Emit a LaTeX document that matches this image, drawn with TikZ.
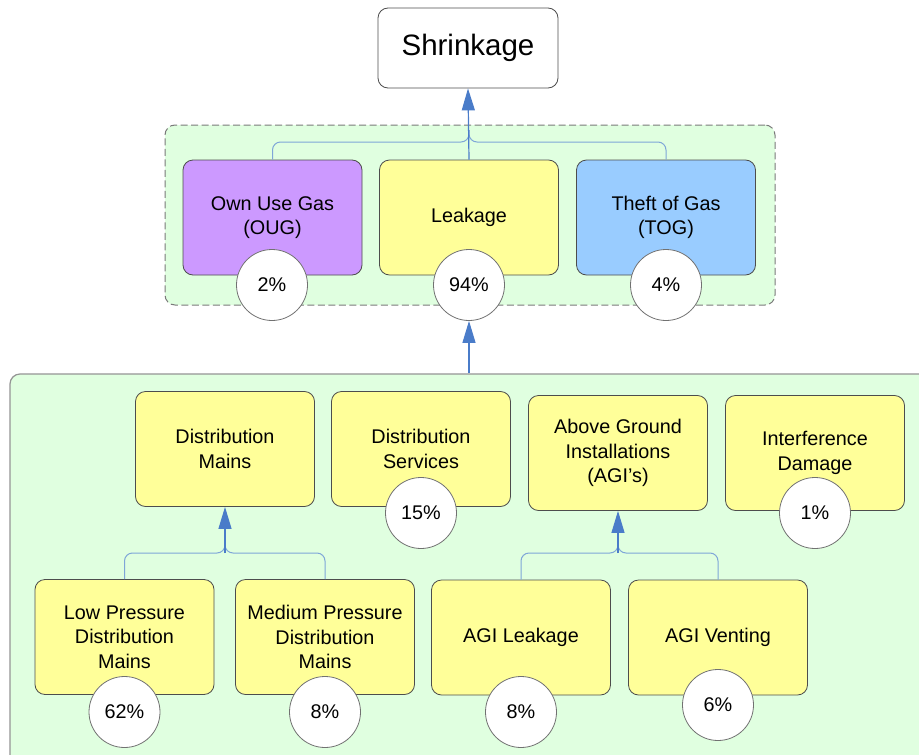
\documentclass[tikz,border=0pt]{standalone}
\usepackage{fontspec}
\setmainfont{Liberation Sans}
\usetikzlibrary{arrows.meta}
\definecolor{boxyellow}{HTML}{FFFF99}
\definecolor{boxpurple}{HTML}{CC99FF}
\definecolor{boxblue}{HTML}{99CCFF}
\definecolor{groupgreen}{HTML}{E0FFE0}
\definecolor{linkblue}{HTML}{7FA6D8}
\definecolor{arrowblue}{HTML}{4A7CC9}
\definecolor{edgegray}{HTML}{4D4D4D}
\definecolor{framegray}{HTML}{7A7A7A}
\begin{document}
\begin{tikzpicture}[x=1pt,y=-1pt,
 card/.style={draw=edgegray, line width=0.8pt, rounded corners=10pt, minimum width=179pt, minimum height=115pt, align=center, font=\fontsize{19.8}{24.5}\selectfont, inner sep=0pt},
 pct/.style={circle, draw=edgegray!80, line width=0.8pt, fill=white, minimum size=71pt, inner sep=0pt, font=\fontsize{19.8}{24}\selectfont},
 group/.style={fill=groupgreen, rounded corners=10pt, inner sep=0pt},
 fork/.style={draw=linkblue, line width=1pt, rounded corners=8pt},
 lead/.style={draw=arrowblue, line width=1.2pt, -{Triangle[length=22pt,width=13pt]}}
]
\useasboundingbox (0,0) rectangle (919,755);
\fill[white] (0,0) rectangle (919,755);
\clip (0,0) rectangle (919,755);

% groups
\node[group, draw=framegray, line width=1pt, dash pattern=on 7pt off 3.5pt, minimum width=610pt, minimum height=180pt] (topgroup) at (470,215) {};
\node[group, draw=framegray!80, line width=1.2pt, minimum width=930pt, minimum height=420pt] (lowgroup) at (475,584) {};

% top
\node[draw=edgegray, line width=0.8pt, fill=white, rounded corners=10pt, minimum width=180pt, minimum height=80pt, font=\fontsize{29.5}{34}\selectfont] (shrink) at (468,48) {Shrinkage};

\node[card, fill=boxpurple] (oug) at (272.5,217.5) {Own Use Gas\\(OUG)};
\node[card, fill=boxyellow] (leak) at (469,217.5) {Leakage};
\node[card, fill=boxblue] (tog) at (666,217.5) {Theft of Gas\\(TOG)};

% row 1
\node[card, fill=boxyellow] (dmains) at (225,449) {Distribution\\Mains};
\node[card, fill=boxyellow] (dserv) at (421,449) {Distribution\\Services};
\node[card, fill=boxyellow] (agi) at (618,453) {Above Ground\\Installations\\(AGI’s)};
\node[card, fill=boxyellow] (idmg) at (815,453) {Interference\\Damage};

% row 2
\node[card, fill=boxyellow] (lp) at (124.5,637) {Low Pressure\\Distribution\\Mains};
\node[card, fill=boxyellow] (mp) at (325,637) {Medium Pressure\\Distribution\\Mains};
\node[card, fill=boxyellow] (agil) at (521,637.5) {AGI Leakage};
\node[card, fill=boxyellow] (agiv) at (718,637.5) {AGI Venting};

% percentage circles
\node[pct] (c2) at (272,285) {2\%};
\node[pct] (c94) at (469,285) {94\%};
\node[pct] (c4) at (666,285) {4\%};
\node[pct] (c15) at (421,513) {15\%};
\node[pct] (c1) at (815,513) {1\%};
\node[pct] (c62) at (124.5,712) {62\%};
\node[pct] (c8a) at (325,712) {8\%};
\node[pct] (c8b) at (521,712) {8\%};
\node[pct] (c6) at (718,705) {6\%};

% fork points
\coordinate (forkT) at (469,142);
\coordinate (forkDM) at (225,553);
\coordinate (forkAGI) at (618,553);

% connectors
\draw[fork] (oug.north) |- (forkT) -- ++(0,-12);
\draw[fork] (tog.north) |- (forkT) -- ++(0,-12);
\draw[lead] (leak.north) -- (shrink.south);
\draw[lead] (c94.south |- lowgroup.north) -- (c94.south);

\draw[fork] (lp.north) |- (forkDM) -- ++(0,-10);
\draw[fork] (mp.north) |- (forkDM) -- ++(0,-10);
\draw[lead] (forkDM) -- (dmains.south);

\draw[fork] (agil.north) |- (forkAGI) -- ++(0,-10);
\draw[fork] (agiv.north) |- (forkAGI) -- ++(0,-10);
\draw[lead] (forkAGI) -- (agi.south);
\end{tikzpicture}
\end{document}
